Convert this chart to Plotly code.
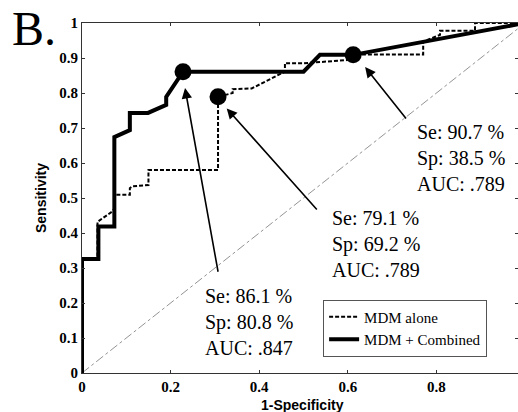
import plotly.graph_objects as go

# ---- data ----
combined_x = [0, 0, 0.037, 0.037, 0.073, 0.073, 0.108, 0.108, 0.149, 0.19, 0.19, 0.228, 0.50, 0.537, 0.612, 1.0]
combined_y = [0, 0.3256, 0.3256, 0.4186, 0.4186, 0.674, 0.694, 0.743, 0.743, 0.766, 0.789, 0.861, 0.861, 0.909, 0.909, 1.0]

alone_x = [0, 0, 0.035, 0.035, 0.068, 0.073, 0.073, 0.108, 0.108, 0.113, 0.15, 0.15, 0.307, 0.307,
           0.34, 0.34, 0.383, 0.458, 0.458, 0.50, 0.597, 0.612, 0.77, 0.77, 0.808, 0.808, 0.887, 0.887, 1.0]
alone_y = [0, 0.3256, 0.3256, 0.432, 0.461, 0.47, 0.509, 0.509, 0.528, 0.533, 0.537, 0.58, 0.58, 0.789,
           0.80, 0.811, 0.813, 0.861, 0.885, 0.885, 0.894, 0.91, 0.91, 0.947, 0.966, 0.978, 0.978, 1.0, 1.0]

dots_x = [0.228, 0.307, 0.612]
dots_y = [0.861, 0.789, 0.909]

labels = ["Se: 86.1 %<br>Sp: 80.8 %<br>AUC: .847",
          "Se: 79.1 %<br>Sp: 69.2 %<br>AUC: .789",
          "Se: 90.7 %<br>Sp: 38.5 %<br>AUC: .789"]
label_x = [0.273, 0.560, 0.752]
label_y = [0.146, 0.369, 0.614]
arrow_head_x = [0.2325, 0.3266, 0.639]
arrow_head_y = [0.814, 0.756, 0.874]
arrow_tail_x = [0.3077, 0.533, 0.734]
arrow_tail_y = [0.285, 0.463, 0.723]

xticks = [0, 0.2, 0.4, 0.6, 0.8]
xtick_text = ["0", "0.2", "0.4", "0.6", "0.8"]
yticks = [0, 0.1, 0.2, 0.3, 0.4, 0.5, 0.6, 0.7, 0.8, 0.9, 1]
ytick_text = ["0", "0.1", "0.2", "0.3", "0.4", "0.5", "0.6", "0.7", "0.8", "0.9", "1"]

SERIF = "Liberation Serif"
SANS = "Liberation Sans"

fig = go.Figure()

# chance diagonal
fig.add_trace(go.Scatter(x=[0, 1], y=[0, 1], mode="lines", showlegend=False,
                         line=dict(color="#777777", width=0.8, dash="dashdot"), hoverinfo="skip"))

fig.add_trace(go.Scatter(x=alone_x, y=alone_y, mode="lines", name="MDM alone",
                         line=dict(color="black", width=2, dash="4px,2px")))
fig.add_trace(go.Scatter(x=combined_x, y=combined_y, mode="lines", name="MDM + Combined",
                         line=dict(color="black", width=4)))
fig.add_trace(go.Scatter(x=dots_x, y=dots_y, mode="markers", showlegend=False,
                         marker=dict(color="black", size=17)))

annotations = []
for i in range(3):
    annotations.append(dict(x=arrow_head_x[i], y=arrow_head_y[i], xref="x", yref="y",
                            ax=arrow_tail_x[i], ay=arrow_tail_y[i], axref="x", ayref="y",
                            text="", showarrow=True, arrowhead=2, arrowsize=1.3,
                            arrowwidth=1.6, arrowcolor="black"))
    annotations.append(dict(x=label_x[i], y=label_y[i], xref="x", yref="y",
                            text=labels[i], showarrow=False, xanchor="left", yanchor="middle",
                            align="left", font=dict(family=SERIF, size=20, color="black")))

annotations.append(dict(x=-0.165, y=1.0657, xref="paper", yref="paper", text="B.",
                        showarrow=False, xanchor="left", yanchor="top",
                        font=dict(family=SERIF, size=48, color="black")))
annotations.append(dict(x=-0.094, y=0.5, xref="paper", yref="paper", text="<b>Sensitivity</b>",
                        textangle=-90, showarrow=False, xanchor="center", yanchor="middle",
                        font=dict(family=SANS, size=14, color="black")))
annotations.append(dict(x=0.505, y=-0.091, xref="paper", yref="paper", text="<b>1-Specificity</b>",
                        showarrow=False, xanchor="center", yanchor="middle",
                        font=dict(family=SANS, size=14, color="black")))

fig.update_layout(
    width=518, height=412,
    margin=dict(l=82, r=0, t=23, b=39),
    paper_bgcolor="white", plot_bgcolor="white",
    annotations=annotations,
    legend=dict(x=0.553, y=0.21, xanchor="left", yanchor="top",
                bgcolor="white", bordercolor="#555555", borderwidth=1,
                font=dict(family=SERIF, size=15, color="black"),
                itemwidth=30, tracegroupgap=0),
    showlegend=True,
)

fig.update_xaxes(range=[0, 0.984], tickvals=xticks, ticktext=xtick_text,
                 showgrid=False, zeroline=False, showline=True, linecolor="#333333", linewidth=1,
                 mirror="ticks", ticks="inside", ticklen=3, tickcolor="#333333",
                 tickfont=dict(family=SERIF, size=15, color="black", weight="bold"))
fig.update_yaxes(range=[0, 1], tickvals=yticks, ticktext=ytick_text,
                 showgrid=False, zeroline=False, showline=True, linecolor="#333333", linewidth=1,
                 mirror="ticks", ticks="inside", ticklen=3, tickcolor="#333333",
                 tickfont=dict(family=SERIF, size=15, color="black", weight="bold"))

fig.write_html("out.html")
